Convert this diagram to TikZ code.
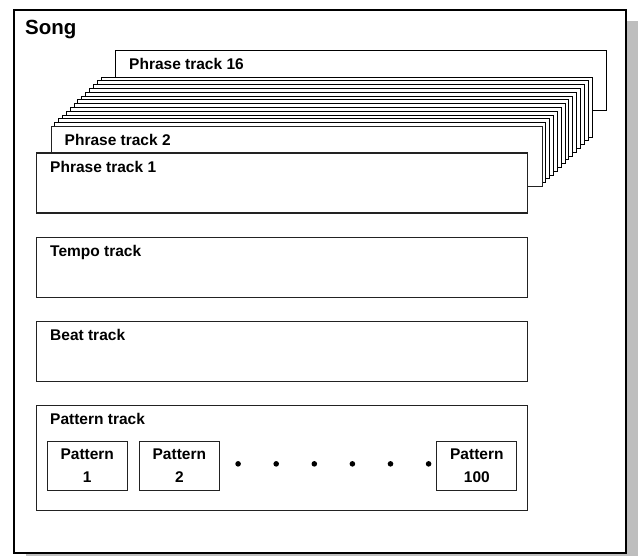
\documentclass[tikz,border=0pt]{standalone}
\usepackage{fontspec}
\setmainfont{Liberation Sans}
\usepackage{tikz}
\usetikzlibrary{calc,positioning,shadows}
\definecolor{songline}{HTML}{000000}
\definecolor{trackline}{HTML}{222222}
\definecolor{shadowgray}{HTML}{BEBEBE}
\tikzset{
every picture/.style={line join=miter},
song frame/.style={
  draw=songline,
  line width=2.3pt,
  fill=white,
  minimum width=612pt,
  minimum height=543pt,
  inner sep=0pt,
  drop shadow={shadow xshift=12pt, shadow yshift=-11pt, fill=shadowgray, opacity=1}
},
song label/.style={anchor=base west, inner sep=0pt, xshift=12pt, yshift=-25.3pt,
  font=\bfseries\fontsize{20.5}{24}\selectfont},
track box/.style={
  draw=trackline,
  line width=1.1pt,
  fill=white,
  minimum width=491pt,
  minimum height=60pt,
  inner sep=0pt
},
layer box/.style={track box, draw=black, line width=0.9pt},
track label/.style={anchor=base west, inner sep=0pt, xshift=14pt, yshift=-19.7pt,
  font=\bfseries\fontsize{15.5}{18}\selectfont},
pattern box/.style={
  draw=trackline,
  line width=1.1pt,
  fill=white,
  minimum width=80pt,
  minimum height=49.4pt,
  inner sep=0pt,
  align=center,
  font=\bfseries\fontsize{15.5}{23.3}\selectfont
}
}

\begin{document}
\begin{tikzpicture}[
x=1pt, y=-1pt,
node distance=23pt and 11pt,
]
\useasboundingbox (0,0) rectangle (640,556);
\clip (0,0) rectangle (640,556);
\node[song frame, anchor=north west, label={[song label]north west:Song}] (song) at (13,9) {};
% phrase tracks, from the back to the front
\node[layer box, anchor=north west, label={[track label]north west:Phrase track 16}] (phrase16) at (115,50) {};
\foreach \k in {15,14,...,3}
  \node[layer box, anchor=north west] (phrase\k) at ({50.5+(\k-2)*3.85}, {126-(\k-2)*3.8}) {};
\node[track box, anchor=north west, label={[track label]north west:Phrase track 2}] (phrase2) at (50.5,126) {};
\node[track box, anchor=north west, label={[track label]north west:Phrase track 1}] (phrase1) at (36,152.5) {};
\node[track box, below=of phrase1, label={[track label]north west:Tempo track}] (tempo) {};
\node[track box, below=of tempo, label={[track label]north west:Beat track}] (beat) {};
\node[track box, minimum height=105.5pt, below=of beat, label={[track label]north west:Pattern track}] (pattern) {};
% patterns
\node[pattern box, anchor=north west] (pat1) at ($(pattern.north west)+(10.7,35.8)$) {Pattern\\1};
\node[pattern box, right=of pat1] (pat2) {Pattern\\2};
\node[pattern box, anchor=north east] (pat100) at ($(pattern.north east)+(-10.7,35.8)$) {Pattern\\100};
\foreach \i in {0,...,5}
  \fill ($(pat2.east)+(18.2+\i*38.1,-2)$) circle (2.8pt);
\end{tikzpicture}
\end{document}
